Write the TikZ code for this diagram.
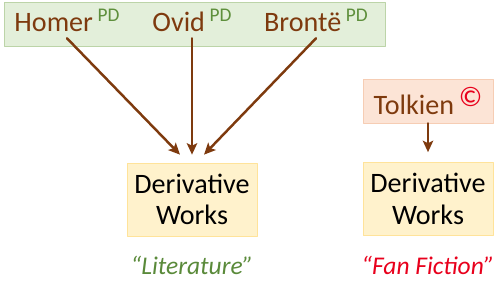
\documentclass[tikz,border=0pt]{standalone}
\usepackage{fontspec}
\setmainfont{Carlito}
\usetikzlibrary{positioning,calc,arrows.meta}

\definecolor{authorbrown}{HTML}{7E3A0E}
\definecolor{pdgreen}{HTML}{5E8F3C}
\definecolor{pdfill}{HTML}{E3EFDA}
\definecolor{pdline}{HTML}{BCD4A8}
\definecolor{workfill}{HTML}{FFF2CC}
\definecolor{workline}{HTML}{FFE39A}
\definecolor{cfill}{HTML}{FCE4D6}
\definecolor{cline}{HTML}{F6CDB4}
\definecolor{litgreen}{HTML}{5A8A3A}
\definecolor{fanred}{HTML}{E8001C}

\newcommand{\pdmark}{\,\raisebox{0.75ex}{\fontsize{11}{11}\selectfont\color{pdgreen}PD}}
\newcommand{\cmark}{\,\raisebox{0.6ex}{\fontsize{16}{16}\selectfont\color{fanred}©}}

\begin{document}
\begin{tikzpicture}[x=0.2mm,y=-0.2mm,line cap=round,line join=round,
  author/.style={font=\fontsize{16}{19}\selectfont,text=authorbrown,inner sep=1pt},
  work/.style={draw=workline,fill=workfill,minimum width=26mm,minimum height=14.6mm,
    align=center,font=\fontsize{16}{18}\selectfont},
  tag/.style={font=\fontsize{14.5}{17}\selectfont\itshape},
  link/.style={draw=authorbrown,line width=1.4pt,-{Stealth[length=2.3mm,width=2.1mm,inset=0.5mm]}}]
\useasboundingbox (0,0) rectangle (500,282);

% public domain authors
\draw[draw=pdline,fill=pdfill] (4,2) rectangle (385,46);
\node[author,anchor=base] (homer) at (67,32) {Homer\pdmark};
\node[author,anchor=base] (ovid) at (192,32) {Ovid\pdmark};
\node[author,anchor=base] (bronte) at (316,32) {Brontë\pdmark};

% copyrighted author
\node[author,draw=cline,fill=cfill,minimum width=26mm,minimum height=8.8mm] (tolkien) at (428,101) {Tolkien\cmark};

% derivative works
\node[work] (lit) at (192,199.5) {Derivative\\Works};
\node[work] (fan) at (428,199) {Derivative\\Works};

% arrows
\draw[link] ($(homer.south)+(0,4)$) -- ($(lit.north)+(-12,-8)$);
\draw[link] ($(ovid.south)+(0,4)$) -- ($(lit.north)+(0,-8)$);
\draw[link] ($(bronte.south)+(0,4)$) -- ($(lit.north)+(12,-8)$);
\draw[link] (tolkien.south) -- ($(fan.north)+(0,-10)$);

% labels
\node[tag,text=litgreen] (littag) at (192,265) {“Literature”};
\node[tag,text=fanred] (fantag) at (428,265) {“Fan Fiction”};

\end{tikzpicture}
\end{document}
